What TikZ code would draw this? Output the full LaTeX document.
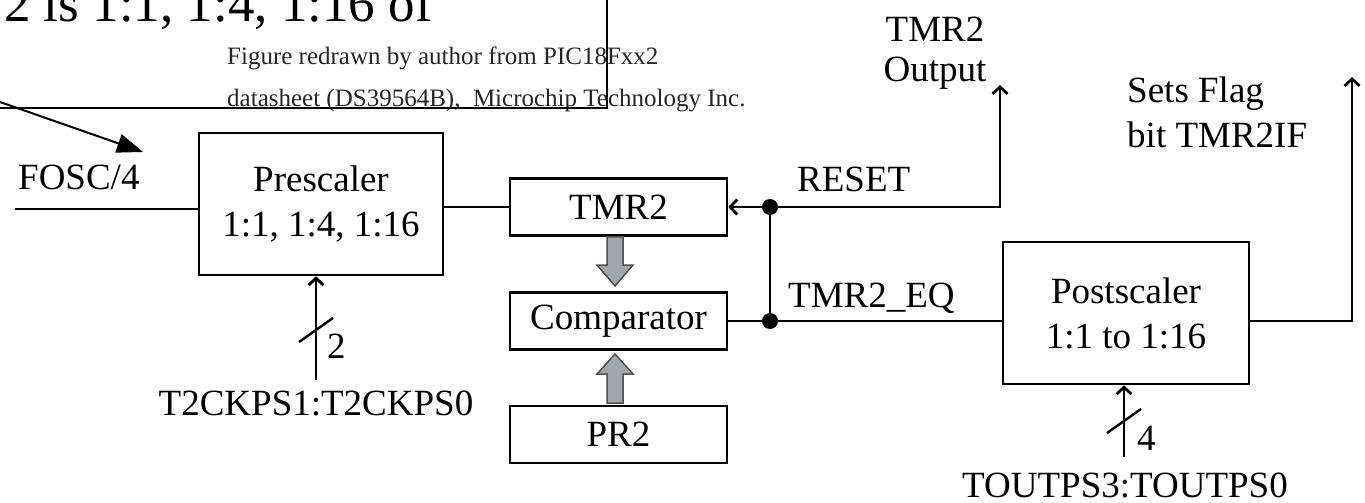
\documentclass[tikz,border=0pt]{standalone}
\usepackage{fontspec}
\setmainfont{Liberation Serif}
\usetikzlibrary{arrows.meta}
\definecolor{blockgray}{HTML}{A2A6AE}
\definecolor{blockedge}{HTML}{505050}
\begin{document}
\begin{tikzpicture}[x=1bp,y=-1bp,
  wire/.style={line width=2.4bp},
  blk/.style={draw, line width=2.6bp, rectangle, inner sep=0pt, align=center, font=\fontsize{37bp}{45bp}\selectfont},
  lbl/.style={inner sep=0pt, font=\fontsize{37bp}{44bp}\selectfont},
  note/.style={inner sep=0pt, font=\fontsize{25bp}{30bp}\selectfont, text=black!85},
  tip/.style={-{Straight Barb[length=7bp,width=15bp,line width=2.8bp]}},
  junc/.style={circle, fill, inner sep=0pt, minimum size=16bp},
  fat/.style={fill=blockgray, draw=blockedge, line width=1.5bp}
]
\useasboundingbox (0,0) rectangle (1365,503);
\fill[white] (0,0) rectangle (1365,503);

% top annotation
\node[inner sep=0pt, anchor=base west, font=\fontsize{53bp}{60bp}\selectfont] (big) at (4,22) {2 is 1:1, 1:4, 1:16 of};
\node[note, anchor=base west] (n1) at (227,65) {Figure redrawn by author from PIC18Fxx2};
\node[note, anchor=base west] (n2) at (227,107) {datasheet (DS39564B),\ \ Microchip Technology Inc.};
\draw[line width=1.6bp] (-5,108) -- (607,108) -- (607,-5);
\coordinate (la) at (-10,98.5);
\coordinate (lb) at (143,152);
\draw[line width=2bp, -{Triangle[length=26bp,width=19bp]}] (la) -- (lb);

% blocks
\node[blk, minimum width=244bp, minimum height=142bp] (pre) at (321,204) {Prescaler\\1:1, 1:4, 1:16};
\node[blk, minimum width=217bp, minimum height=57bp] (tmr) at (618.5,207) {TMR2};
\node[blk, minimum width=217bp, minimum height=57bp] (cmp) at (618.5,321) {Comparator};
\node[blk, minimum width=217bp, minimum height=57bp] (pr2) at (618.5,434.5) {PR2};
\node[blk, minimum width=246bp, minimum height=142bp] (post) at (1126,313) {Postscaler\\1:1 to 1:16};

% labels
\node[lbl, anchor=base west] (fosc) at (18,190) {FOSC/4};
\node[lbl, anchor=base west] (rst) at (797,192) {RESET};
\node[lbl, anchor=base west] (eq) at (788,307) {TMR2\_EQ};
\node[lbl, anchor=base] (to1) at (935,42) {TMR2};
\node[lbl, anchor=base] (to2) at (935,82) {Output};
\node[lbl, anchor=base west] (sf1) at (1127,103) {Sets Flag};
\node[lbl, anchor=base west] (sf2) at (1127,148) {bit TMR2IF};
\node[lbl, anchor=base] (t2) at (316,415) {T2CKPS1:T2CKPS0};
\node[lbl, anchor=base] (tp) at (1125,497) {TOUTPS3:TOUTPS0};
\node[lbl, anchor=base west] (w2) at (327,358) {2};
\node[lbl, anchor=base west] (w4) at (1137,450) {4};

% junctions
\node[junc] (j1) at (770,207) {};
\node[junc] (j2) at (770,321) {};

% wires
\coordinate (fin) at (15,209);
\draw[wire] (fin) -- (fin -| pre.west);
\draw[wire] (pre.east |- tmr.west) -- (tmr.west);
\draw[wire, tip] (j1.center) -- (tmr.east);
\coordinate (outtip) at (1000,85);
\draw[wire, tip] (j1.center) -- (j1 -| outtip) -- (outtip);
\draw[wire] (j1.center) -- (j2.center);
\draw[wire] (cmp.east) -- (j2.center) -- (j2 -| post.west);
\coordinate (flagtip) at (1352,77);
\draw[wire, tip] (post.east |- j2) -- (j2 -| flagtip) -- (flagtip);

\coordinate (pc) at (316,380);
\draw[wire, tip] (pc) -- (pc |- pre.south);
\draw[wire] (299,342) -- (333,318);
\coordinate (qc) at (1124,457);
\draw[wire, tip] (qc) -- (qc |- post.south);
\draw[wire] (1107,433) -- (1141,409);

% block arrows
\draw[fat] (607,237) -- (623,237) -- (623,265) -- (633,265) -- (615,286) -- (597,265) -- (607,265) -- cycle;
\draw[fat] (607,403) -- (623,403) -- (623,374) -- (633,374) -- (615,354) -- (597,374) -- (607,374) -- cycle;
\end{tikzpicture}
\end{document}
